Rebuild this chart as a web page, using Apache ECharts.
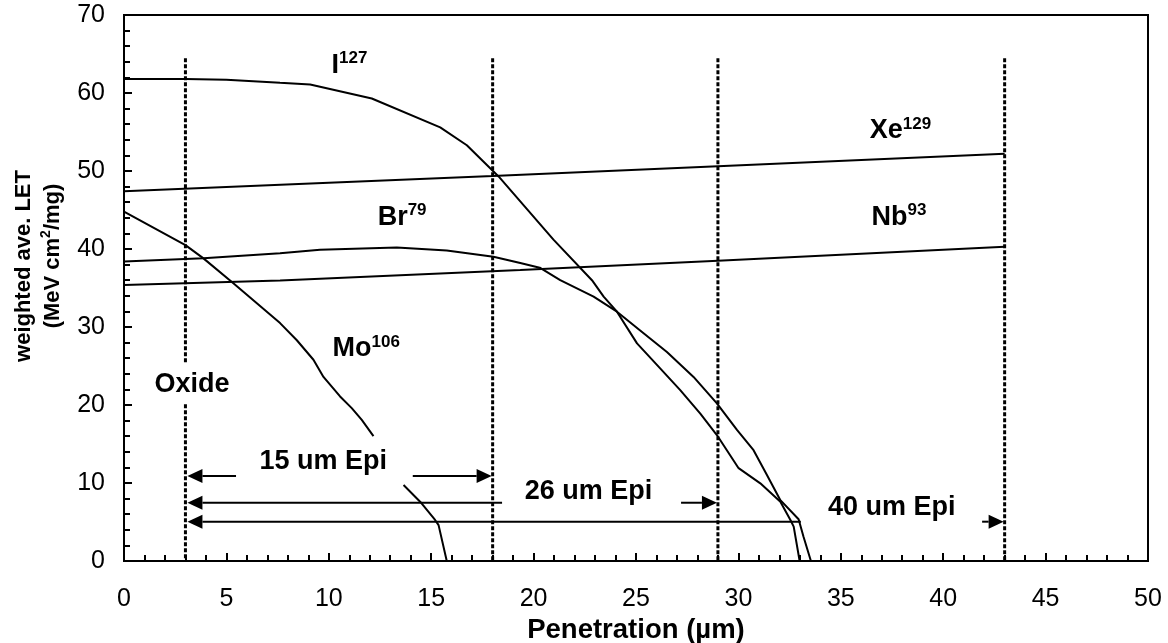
<!DOCTYPE html>
<html>
<head>
<meta charset="utf-8">
<script src="https://cdn.jsdelivr.net/npm/echarts@6/dist/echarts.min.js"></script>
<style>
  html, body { margin: 0; padding: 0; background: #fff; }
  #chart { width: 1168px; height: 643px; }
</style>
</head>
<body>
<div id="chart"></div>
<script>
const FONT = '"Liberation Sans", Arial, Helvetica, sans-serif';

// Weighted average LET along the track: [penetration (µm), LET (MeV cm²/mg)]
const iodine127 = [
  [0, 61.8], [3, 61.8], [5, 61.7], [7.62, 61.3], [9.09, 61.1], [12.1, 59.3],
  [15.44, 55.6], [16.74, 53.3], [18.29, 49.3], [20.97, 41.2], [22.85, 36.0],
  [23.42, 33.9], [24.07, 31.96], [25.05, 27.9], [26.18, 24.7], [27.16, 21.9],
  [28.14, 18.9], [28.95, 16.15], [30.01, 11.9], [31.07, 9.96], [32.05, 7.6],
  [32.54, 5.26], [32.7, 4.4], [32.99, 0]
];
const xenon129 = [[0, 47.4], [10, 48.5], [18, 49.35], [29, 50.6], [43, 52.2]];
const bromine79 = [
  [0, 38.4], [3.88, 38.8], [7.62, 39.45], [9.57, 39.9], [13.32, 40.2],
  [15.76, 39.8], [18.04, 39.0], [19.35, 38.2], [20.3, 37.6], [21.3, 36.0],
  [22.93, 33.9], [24.07, 31.96], [25.37, 29.2], [26.51, 26.8], [27.81, 23.6],
  [28.95, 20.2], [29.93, 16.8], [30.74, 14.2], [31.4, 11.0], [32.05, 7.8],
  [32.94, 5.35], [33.18, 3.1], [33.54, 0]
];
const niobium93 = [[0, 35.4], [7.62, 35.95], [19.35, 37.3], [29, 38.5], [43, 40.3]];
const molybdenum106Upper = [
  [0, 44.8], [3, 40.5], [3.88, 38.8], [5.34, 35.6], [7.62, 30.5], [8.44, 28.3],
  [9.25, 25.8], [9.74, 23.6], [10.55, 21.1], [11.12, 19.6], [11.61, 18.1], [12.18, 16.0]
];
const molybdenum106Lower = [
  [13.65, 9.74], [14.46, 7.6], [15.19, 5.26], [15.36, 4.6], [15.76, 0]
];

// Layer boundaries: [depth (µm), from LET, to LET]
const layerBounds = [
  [3, 64.45, 25.4], [3, 20.1, 0], [18, 64.45, 0], [29, 64.45, 0], [43, 64.45, 0]
];

// Epi thickness arrows: [from (µm), to (µm), LET level, head side (-1 start, 1 end)]
const epiArrows = [
  [3, 5.47, 10.9, -1], [14.1, 18, 10.9, 1],
  [3, 18.46, 7.47, -1], [27.2, 29, 7.47, 1],
  [3, 33.05, 5.04, -1], [41.9, 43, 5.04, 1]
];

// Ion names with mass numbers: [x, y, symbol, mass]
const ionLabels = [
  [10.16, 63.5, 'I', '127'],
  [36.44, 55.1, 'Xe', '129'],
  [12.41, 44.0, 'Br', '79'],
  [36.52, 44.0, 'Nb', '93'],
  [10.21, 27.2, 'Mo', '106']
];
// Region captions: [x, y, text]
const regionLabels = [
  [1.51, 22.5, 'Oxide'],
  [6.64, 12.73, '15 um Epi'],
  [19.59, 8.88, '26 um Epi'],
  [34.4, 6.75, '40 um Epi']
];

const xTicks = { min: 0, max: 50, step: 5 };
const yTicks = { min: 0, max: 70, step: 10 };

function curve(data) {
  return {
    type: 'line', data: data, showSymbol: false, symbol: 'none', smooth: false,
    silent: true, z: 3,
    lineStyle: { color: '#000', width: 2 }
  };
}

const labelRich = {
  m: { fontFamily: FONT, fontSize: 27, fontWeight: 'bold', color: '#000', opacity: 1, lineHeight: 30 },
  s: { fontFamily: FONT, fontSize: 17, fontWeight: 'bold', color: '#000', opacity: 1, lineHeight: 13, verticalAlign: 'top' }
};

const textData = ionLabels.map(d => ({ value: [d[0], d[1]], text: '{m|' + d[2] + '}{s|' + d[3] + '}' }))
  .concat(regionLabels.map(d => ({ value: [d[0], d[1]], text: '{m|' + d[2] + '}' })));

const chart = echarts.init(document.getElementById('chart'), null, { renderer: 'canvas' });
chart.setOption({
  animation: false,
  backgroundColor: '#fff',
  grid: {
    left: 124, right: 20, top: 15, bottom: 82, containLabel: false, outerBoundsMode: 'none',
    show: true, borderColor: '#000', borderWidth: 2, backgroundColor: 'transparent'
  },
  xAxis: {
    type: 'value', min: xTicks.min, max: xTicks.max, interval: xTicks.step,
    name: 'Penetration (µm)', nameLocation: 'middle', nameGap: 54,
    nameTextStyle: { fontFamily: FONT, fontSize: 27.5, fontWeight: 'bold', color: '#000' },
    axisLine: { lineStyle: { color: '#000', width: 2 } },
    axisTick: { inside: true, length: 8, lineStyle: { color: '#000', width: 2 } },
    minorTick: { show: true, splitNumber: 5, length: 6, lineStyle: { color: '#000', width: 2 } },
    axisLabel: { fontFamily: FONT, fontSize: 25, color: '#000', margin: 26 },
    splitLine: { show: false }
  },
  yAxis: {
    type: 'value', min: yTicks.min, max: yTicks.max, interval: yTicks.step,
    axisLine: { show: true, lineStyle: { color: '#000', width: 2 } },
    axisTick: { show: true, inside: true, length: 8, lineStyle: { color: '#000', width: 2 } },
    minorTick: { show: true, splitNumber: 5, length: 6, lineStyle: { color: '#000', width: 2 } },
    axisLabel: { fontFamily: FONT, fontSize: 25, color: '#000', margin: 19 },
    splitLine: { show: false }
  },
  graphic: [
    {
      type: 'text', x: 23.5, y: 266, rotation: Math.PI / 2, silent: true,
      style: { text: 'weighted ave. LET', fontFamily: FONT, fontSize: 22, fontWeight: 'bold', fill: '#000', align: 'center', verticalAlign: 'middle' }
    },
    {
      type: 'text', x: 52.5, y: 256, rotation: Math.PI / 2, silent: true,
      style: {
        text: '{a|(MeV cm}{b|2}{a|/mg)}', align: 'center', verticalAlign: 'middle',
        rich: {
          a: { fontFamily: FONT, fontSize: 22, fontWeight: 'bold', fill: '#000', lineHeight: 26 },
          b: { fontFamily: FONT, fontSize: 14, fontWeight: 'bold', fill: '#000', lineHeight: 12, verticalAlign: 'top' }
        }
      }
    }
  ],
  series: [
    curve(iodine127),
    curve(xenon129),
    curve(bromine79),
    curve(niobium93),
    curve(molybdenum106Upper),
    curve(molybdenum106Lower),
    {
      type: 'custom', coordinateSystem: 'cartesian2d', data: layerBounds, silent: true, z: 2,
      encode: { x: 0, y: [1, 2] },
      renderItem: function (params, api) {
        const top = api.coord([api.value(0), api.value(1)]);
        const bot = api.coord([api.value(0), api.value(2)]);
        return {
          type: 'line',
          shape: { x1: top[0], y1: top[1], x2: bot[0], y2: bot[1] },
          style: { stroke: '#000', lineWidth: 3, lineDash: [4, 2] }
        };
      }
    },
    {
      type: 'custom', coordinateSystem: 'cartesian2d', data: epiArrows, silent: true, z: 4,
      encode: { x: [0, 1], y: 2 },
      renderItem: function (params, api) {
        const a = api.coord([api.value(0), api.value(2)]);
        const b = api.coord([api.value(1), api.value(2)]);
        const head = api.value(3);
        const len = 15, half = 7;
        let tipX, baseX, x1, x2;
        if (head < 0) { tipX = a[0] + 2; baseX = tipX + len; x1 = baseX; x2 = b[0]; }
        else { tipX = b[0] - 1; baseX = tipX - len; x1 = a[0]; x2 = baseX; }
        const y = a[1];
        return {
          type: 'group',
          children: [
            { type: 'line', shape: { x1: x1, y1: y, x2: x2, y2: y }, style: { stroke: '#000', lineWidth: 2 } },
            { type: 'polygon', shape: { points: [[tipX, y], [baseX, y - half], [baseX, y + half]] }, style: { fill: '#000' } }
          ]
        };
      }
    },
    {
      type: 'scatter', data: textData, symbolSize: 1, silent: true, z: 5,
      itemStyle: { color: '#000', opacity: 0 },
      label: {
        show: true, position: [0, 0], align: 'left', verticalAlign: 'middle',
        color: '#000', opacity: 1, textBorderWidth: 0,
        formatter: p => p.data.text, rich: labelRich
      },
      emphasis: { disabled: true }
    }
  ]
});
</script>
</body>
</html>
